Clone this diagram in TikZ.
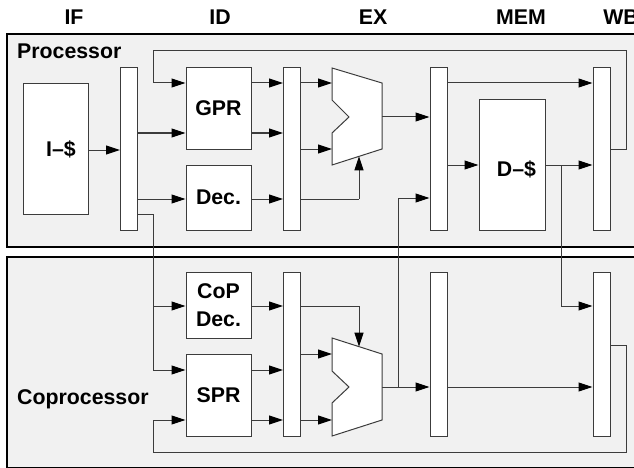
\documentclass[tikz,border=0pt]{standalone}
\usepackage{fontspec}
\setmainfont{Liberation Sans}
\usetikzlibrary{arrows.meta}
\definecolor{panel}{RGB}{241,241,241}
\definecolor{wirec}{RGB}{60,60,60}
\newcommand\diagfont{\fontsize{21.3}{28}\selectfont\bfseries}
\begin{document}
\begin{tikzpicture}[x=1pt,y=-1pt,
  wire/.style={draw=wirec, line width=1pt},
  arr/.style={wire, -{Triangle[length=14pt,width=9pt,color=black]}},
  frame/.style={draw=black, line width=2pt, fill=panel},
  pipereg/.style={draw=wirec, fill=white, line width=1pt, inner sep=0pt,
    minimum width=17pt, minimum height=162pt},
  unit/.style={draw=wirec, fill=white, line width=1pt, inner sep=0pt,
    minimum width=65pt, font=\diagfont, align=center},
  lbl/.style={font=\diagfont, inner sep=0pt},
  alu/.style={draw=wirec, fill=white, line width=1pt, line join=miter}]

\useasboundingbox (0,0) rectangle (634,468);
\clip (0,0) rectangle (634,468);

% pipeline stage titles
\node[lbl, anchor=base] (tIF)  at (74,25)  {IF};
\node[lbl, anchor=base] (tID)  at (220,25) {ID};
\node[lbl, anchor=base] (tEX)  at (373,25) {EX};
\node[lbl, anchor=base] (tMEM) at (521,25) {MEM};
\node[lbl, anchor=base] (tWB)  at (621,25) {WB};

% the two panels
\path[frame] (7,34) rectangle (660,246.5);
\path[frame] (7,256.5) rectangle (660,468);
\node[lbl, anchor=base west] (proc)  at (17,58.3) {Processor};
\node[lbl, anchor=base west] (coproc) at (17,404) {Coprocessor};

% row heights used by the wiring
\coordinate (rA) at (0,83);
\coordinate (rB) at (0,133);
\coordinate (rC) at (0,149);
\coordinate (rD) at (0,199);
\coordinate (rE) at (0,214);
\coordinate (rF) at (0,117);
\coordinate (rG) at (0,165);
\coordinate (rH) at (0,198);
\coordinate (sA) at (0,306);
\coordinate (sB) at (0,354);
\coordinate (sC) at (0,370);
\coordinate (sD) at (0,420);
\coordinate (sE) at (0,387);
\coordinate (sF) at (0,345);

% processor blocks
\node[unit, minimum width=65pt, minimum height=130pt] (icache) at (55.5,149) {};
\node[lbl] (icachetxt) at (61,149) {I--\$};
\node[pipereg] (r1) at (129,149) {};
\node[unit, minimum height=81pt] (gpr) at (218.5,108.5) {GPR};
\node[unit, minimum height=65pt] (dec) at (218.5,197.5) {Dec.};
\node[pipereg] (r2) at (292,149) {};
\path[alu] (332,68) -- (382,83) -- (382,149) -- (332,165) -- (332,133)
  -- (349,117) -- (332,100) -- cycle;
\coordinate (alu1out) at (382,117);
\node[pipereg] (r3) at (438.5,149) {};
\node[unit, minimum width=66pt, minimum height=130pt] (dcache) at (512,165) {};
\node[lbl] (dcachetxt) at (516.5,169) {D--\$};
\node[pipereg] (r4) at (601.5,149) {};

% coprocessor blocks
\node[unit, minimum height=66pt] (cop) at (218.5,305) {CoP\\Dec.};
\node[unit, minimum height=82pt] (spr) at (218.5,395) {SPR};
\node[pipereg, minimum height=164pt] (c2) at (292,354) {};
\path[alu] (332,338) -- (382,354) -- (382,420) -- (332,436) -- (332,403)
  -- (349,387) -- (332,371) -- cycle;
\coordinate (alu2out) at (382,387);
\node[pipereg, minimum height=164pt] (c3) at (438.5,354) {};
\node[pipereg, minimum height=164pt] (c4) at (601.5,354) {};

% fetch and decode
\draw[arr] (icache.east |- 0,150) -- (r1.west |- 0,150);
\draw[arr] (r1.east |- rB) -- (gpr.west |- rB);
\draw[arr] (r1.east |- rD) -- (dec.west |- rD);
\coordinate (split) at (153,214);
\draw[wire] (r1.east |- rE) -- (split) -- (split |- sC);
\draw[arr] (split |- sC) -- (spr.west |- sC);
\draw[arr] (split |- sA) -- (cop.west |- sA);

% write-back into the register file
\draw[wire] (r4.east |- rC) -- (626,149) -- (626,51) -- (153,51) -- (153,83);
\draw[arr] (153,83) -- (gpr.west |- rA);

% register file and decoder to ID/EX
\draw[arr] (gpr.east |- rA) -- (r2.west |- rA);
\draw[arr] (gpr.east |- rB) -- (r2.west |- rB);
\draw[arr] (dec.east |- rD) -- (r2.west |- rD);

% execute
\draw[arr] (r2.east |- rA) -- (332,83);
\draw[arr] (r2.east |- rC) -- (332,149);
\draw[wire] (r2.east |- rD) -- (359,199);
\draw[arr] (359,199) -- (359,156.4);
\draw[arr] (alu1out) -- (r3.west |- rF);
\draw[wire] (alu2out) -- (398,387) -- (398,198);
\draw[arr] (398,198) -- (r3.west |- rH);

% memory
\draw[arr] (r3.east |- rA) -- (r4.west |- rA);
\draw[arr] (r3.east |- rG) -- (dcache.west |- rG);
\draw[arr] (dcache.east |- rG) -- (r4.west |- rG);
\draw[wire] (561,165) -- (561,306);
\draw[arr] (561,306) -- (c4.west |- sA);

% coprocessor decode and registers
\draw[arr] (cop.east |- sA) -- (c2.west |- sA);
\draw[arr] (spr.east |- sC) -- (c2.west |- sC);
\draw[arr] (spr.east |- sD) -- (c2.west |- sD);

% coprocessor execute
\draw[wire] (c2.east |- sA) -- (359,306);
\draw[arr] (359,306) -- (359,346.6);
\draw[arr] (c2.east |- sB) -- (332,354);
\draw[arr] (c2.east |- sD) -- (332,420);
\draw[arr] (398,387) -- (c3.west |- sE);
\draw[arr] (c3.east |- sE) -- (c4.west |- sE);

% coprocessor write-back
\draw[wire] (c4.east |- sF) -- (626,345) -- (626,452) -- (153,452) -- (153,420);
\draw[arr] (153,420) -- (spr.west |- sD);
\end{tikzpicture}
\end{document}
